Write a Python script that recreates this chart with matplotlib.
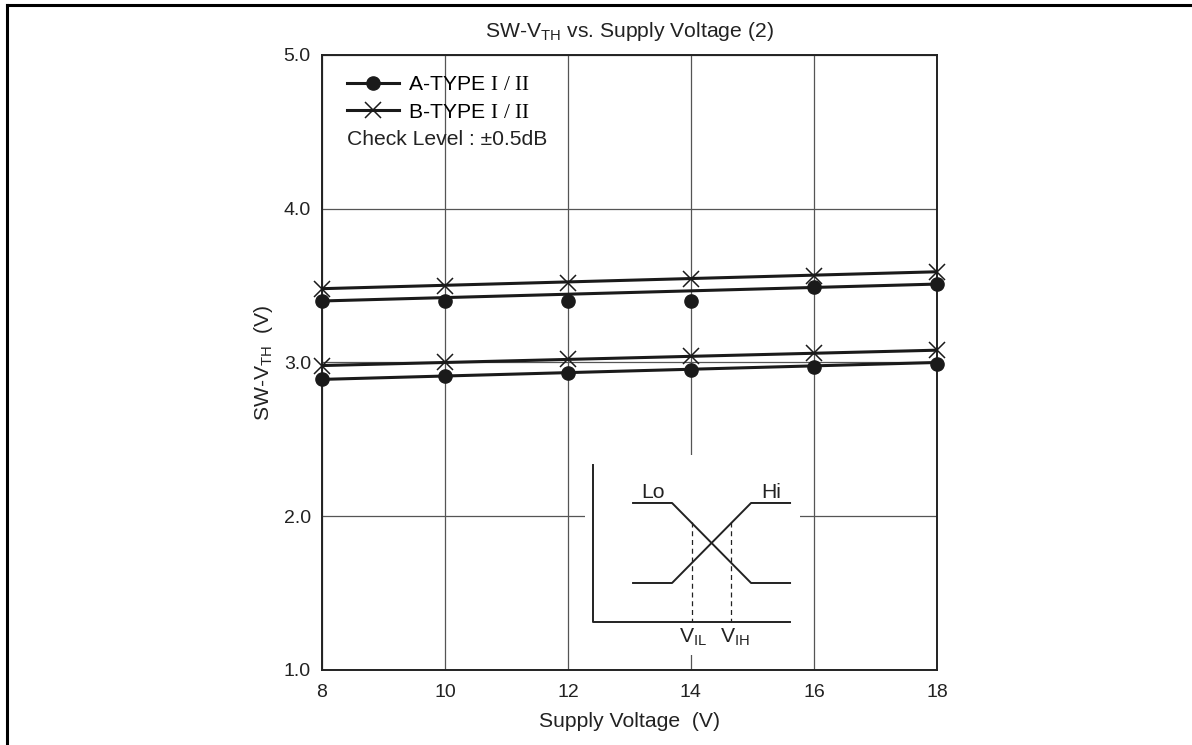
import numpy as np
import matplotlib.pyplot as plt
from matplotlib.lines import Line2D

plt.rcParams['font.family'] = ['Liberation Sans', 'DejaVu Sans']
plt.rcParams['mathtext.fontset'] = 'custom'
plt.rcParams['mathtext.rm'] = 'Liberation Serif'
plt.rcParams['mathtext.sf'] = 'Liberation Sans'
plt.rcParams['mathtext.it'] = 'Liberation Sans:italic'

# supply voltage (V)
supply_v = [8, 10, 12, 14, 16, 18]

# measured points, upper and lower threshold pairs
a_upper = [3.40, 3.40, 3.40, 3.40, 3.49, 3.51]
b_upper = [3.48, 3.50, 3.52, 3.54, 3.56, 3.59]
a_lower = [2.89, 2.91, 2.93, 2.95, 2.97, 2.99]
b_lower = [2.98, 3.00, 3.02, 3.04, 3.06, 3.08]

# straight trend lines drawn through each set (end points)
line_x = [8, 18]
a_upper_line = [3.40, 3.51]
b_upper_line = [3.48, 3.59]
a_lower_line = [2.89, 3.00]
b_lower_line = [2.98, 3.08]

x_ticks = [8, 10, 12, 14, 16, 18]
y_ticks = [1.0, 2.0, 3.0, 4.0, 5.0]

# inset schematic (hysteresis sketch), in sketch units
lo_x = [48, 87, 166, 205]
lo_y = [48, 48, 128, 128]
hi_x = [48, 87, 166, 205]
hi_y = [128, 128, 48, 48]
vil_x = 107
vih_x = 146

fs = 14
fs_big = 15.2
txt = '#222222'
ink = '#1a1a1a'

fig = plt.figure(figsize=(11.92, 7.45), dpi=100)
ax = fig.add_axes([0.2701, 0.1007, 0.5159, 0.8255])

ax.plot(line_x, a_upper_line, color=ink, lw=2.2, zorder=3)
ax.plot(line_x, b_upper_line, color=ink, lw=2.2, zorder=3)
ax.plot(line_x, a_lower_line, color=ink, lw=2.2, zorder=3)
ax.plot(line_x, b_lower_line, color=ink, lw=2.2, zorder=3)

for vals in (a_upper, a_lower):
    ax.plot(supply_v, vals, 'o', color=ink, ms=9.5, clip_on=False, zorder=4)
for vals in (b_upper, b_lower):
    ax.plot(supply_v, vals, 'x', color=ink, ms=11, mew=1.1, clip_on=False, zorder=4)

ax.set_xlim(8, 18)
ax.set_ylim(1.0, 5.0)
ax.set_xticks(x_ticks)
ax.set_yticks(y_ticks)
ax.set_yticklabels([f'{v:.1f}' for v in y_ticks])
ax.tick_params(length=0, labelsize=fs, colors=txt)
ax.tick_params(axis='x', pad=10)
ax.tick_params(axis='y', pad=8)
ax.grid(True, color='#555555', lw=0.9)
ax.set_axisbelow(True)
for sp in ax.spines.values():
    sp.set_linewidth(1.4)
    sp.set_color(txt)

ax.set_title(r'SW-V$_{\mathsf{TH}}$ vs. Supply Voltage (2)', fontsize=fs_big, color=txt, pad=13)
ax.set_xlabel('Supply Voltage  (V)', fontsize=fs_big, color=txt, labelpad=8)
ax.set_ylabel(r'SW-V$_{\mathsf{TH}}$  (V)', fontsize=fs_big, color=txt, labelpad=6)

handles = [
    Line2D([], [], color=ink, lw=2.2, marker='o', ms=9.5),
    Line2D([], [], color=ink, lw=2.2, marker='x', ms=11, mew=1.1),
]
labels = [r'A-TYPE $\mathrm{I\ /\ II}$', r'B-TYPE $\mathrm{I\ /\ II}$']
ax.legend(handles, labels, loc='upper left', bbox_to_anchor=(0.04, 0.967),
          frameon=False, fontsize=fs_big, handlelength=2.5, handletextpad=0.4,
          labelspacing=0.4, borderaxespad=0.0, borderpad=0.0)
ax.text(0.0407, 0.854, 'Check Level : \u00b10.5dB', transform=ax.transAxes,
        fontsize=fs_big, color=txt, va='baseline', ha='left')

# inset schematic
ins = fig.add_axes([0.4908, 0.1208, 0.1804, 0.2685])
ins.set_facecolor('white')
ins.set_xlim(0, 215)
ins.set_ylim(200, 0)
ins.set_xticks([])
ins.set_yticks([])
for sp in ins.spines.values():
    sp.set_visible(False)
ins.plot([8, 8, 205], [10, 167, 167], color=txt, lw=1.4)
ins.plot(lo_x, lo_y, color=txt, lw=1.4)
ins.plot(hi_x, hi_y, color=txt, lw=1.4)
ins.plot([vil_x, vil_x], [67, 167], color=txt, lw=0.9, ls=(0, (4, 3)))
ins.plot([vih_x, vih_x], [67, 167], color=txt, lw=0.9, ls=(0, (4, 3)))
ins.text(68, 47, 'Lo', fontsize=fs_big, ha='center', va='bottom', color=txt)
ins.text(186, 47, 'Hi', fontsize=fs_big, ha='center', va='bottom', color=txt)
ins.text(vil_x + 1, 172, r'V$_{\mathsf{IL}}$', fontsize=fs_big, ha='center', va='top', color=txt)
ins.text(vih_x + 4, 172, r'V$_{\mathsf{IH}}$', fontsize=fs_big, ha='center', va='top', color=txt)

# page frame
fig.add_artist(Line2D([0.0055, 0.0055], [0, 0.9935], color='black', lw=2.2, transform=fig.transFigure))
fig.add_artist(Line2D([0.0055, 1.0], [0.9935, 0.9935], color='black', lw=2.2, transform=fig.transFigure))

fig.savefig('out.png', dpi=100)
